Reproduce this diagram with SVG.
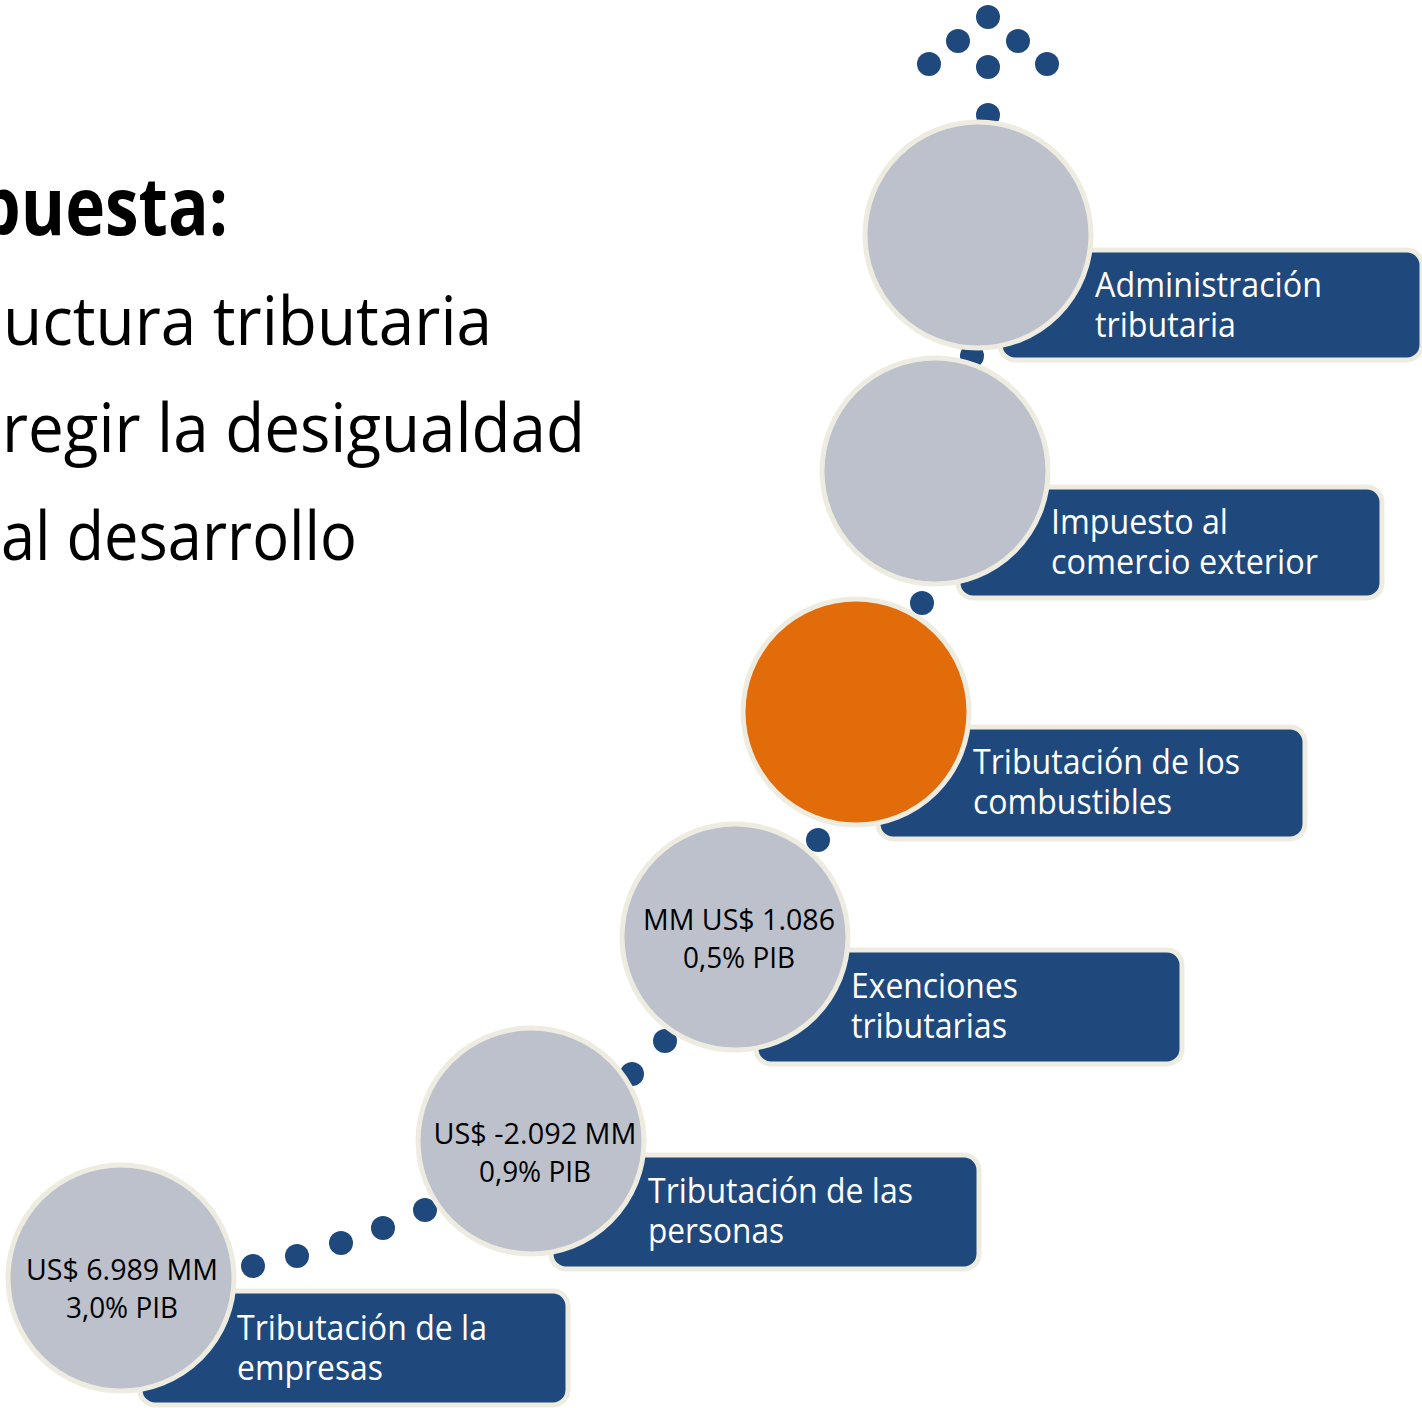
<svg xmlns="http://www.w3.org/2000/svg" width="1422" height="1408" viewBox="0 0 1422 1408">
<style>
.dot{fill:#1F497D}
.box{fill:#1F497D;stroke:#EEECE1;stroke-width:5}
.circ{fill:#BDC1CC;stroke:#EEECE1;stroke-width:5}
.orange{fill:#E36C0A;stroke:#EEECE1;stroke-width:5}
.lbl{font-family:"Open Sans","Noto Sans",sans-serif;font-size:34px;fill:#FFFFFF}
.val{font-family:"Open Sans","Noto Sans",sans-serif;font-size:29px;fill:#000000;text-anchor:middle}
.body{font-family:"Open Sans","Noto Sans",sans-serif;font-size:68px;fill:#000000}
.head{font-family:"Open Sans","Noto Sans",sans-serif;font-size:80px;font-weight:bold;fill:#000000}
</style>
<rect width="1422" height="1408" fill="#FFFFFF"/>
<g id="title">
<text class="head" x="-22" y="235" textLength="250" lengthAdjust="spacingAndGlyphs">puesta:</text>
<text class="body" x="3" y="345" textLength="489" lengthAdjust="spacingAndGlyphs">uctura tributaria</text>
<text class="body" x="2" y="452" textLength="583" lengthAdjust="spacingAndGlyphs">regir la desigualdad</text>
<text class="body" x="1" y="560" textLength="356" lengthAdjust="spacingAndGlyphs">al desarrollo</text>
</g>
<g id="connectors">
<circle class="dot" cx="988" cy="17" r="12"/>
<circle class="dot" cx="958" cy="41" r="12"/>
<circle class="dot" cx="1018" cy="41" r="12"/>
<circle class="dot" cx="929" cy="64" r="12"/>
<circle class="dot" cx="988" cy="67" r="12"/>
<circle class="dot" cx="1047" cy="64" r="12"/>
<circle class="dot" cx="988" cy="115" r="12"/>
<circle class="dot" cx="972" cy="356" r="12"/>
<circle class="dot" cx="922" cy="603" r="12"/>
<circle class="dot" cx="818" cy="840" r="12"/>
<circle class="dot" cx="665" cy="1041" r="12"/>
<circle class="dot" cx="632" cy="1074" r="12"/>
<circle class="dot" cx="425" cy="1210" r="12"/>
<circle class="dot" cx="383" cy="1228" r="12"/>
<circle class="dot" cx="341" cy="1243" r="12"/>
<circle class="dot" cx="297" cy="1256" r="12"/>
<circle class="dot" cx="253" cy="1266" r="12"/>
</g>
<g id="node-administracion">
<rect class="box" x="1000" y="250" width="422" height="110" rx="15"/>
<circle class="circ" cx="978" cy="235" r="113"/>
<text class="lbl"><tspan x="1095" y="297" textLength="227" lengthAdjust="spacingAndGlyphs">Administración</tspan><tspan x="1095" y="337" textLength="141" lengthAdjust="spacingAndGlyphs">tributaria</tspan></text>
</g>
<g id="node-comercio">
<rect class="box" x="958" y="487" width="424" height="111" rx="15"/>
<circle class="circ" cx="935" cy="471" r="113"/>
<text class="lbl"><tspan x="1051" y="534" textLength="177" lengthAdjust="spacingAndGlyphs">Impuesto al</tspan><tspan x="1051" y="574" textLength="267" lengthAdjust="spacingAndGlyphs">comercio exterior</tspan></text>
</g>
<g id="node-combustibles">
<rect class="box" x="878" y="727" width="427" height="112" rx="15"/>
<circle class="orange" cx="856" cy="712" r="113"/>
<text class="lbl"><tspan x="973" y="774" textLength="267" lengthAdjust="spacingAndGlyphs">Tributación de los</tspan><tspan x="973" y="814" textLength="199" lengthAdjust="spacingAndGlyphs">combustibles</tspan></text>
</g>
<g id="node-exenciones">
<rect class="box" x="756" y="950" width="426" height="114" rx="15"/>
<circle class="circ" cx="735" cy="937" r="113"/>
<text class="val"><tspan x="739" y="930" textLength="192" lengthAdjust="spacingAndGlyphs">MM US$ 1.086</tspan><tspan x="739" y="968" textLength="112" lengthAdjust="spacingAndGlyphs">0,5% PIB</tspan></text>
<text class="lbl"><tspan x="851" y="998" textLength="167" lengthAdjust="spacingAndGlyphs">Exenciones</tspan><tspan x="851" y="1038" textLength="156" lengthAdjust="spacingAndGlyphs">tributarias</tspan></text>
</g>
<g id="node-personas">
<rect class="box" x="551" y="1155" width="428" height="114" rx="15"/>
<circle class="circ" cx="531" cy="1141" r="113"/>
<text class="val"><tspan x="535" y="1144" textLength="203" lengthAdjust="spacingAndGlyphs">US$ -2.092 MM</tspan><tspan x="535" y="1182" textLength="112" lengthAdjust="spacingAndGlyphs">0,9% PIB</tspan></text>
<text class="lbl"><tspan x="648" y="1203" textLength="265" lengthAdjust="spacingAndGlyphs">Tributación de las</tspan><tspan x="648" y="1243" textLength="136" lengthAdjust="spacingAndGlyphs">personas</tspan></text>
</g>
<g id="node-empresas">
<rect class="box" x="140" y="1291" width="428" height="114" rx="15"/>
<circle class="circ" cx="121" cy="1278" r="113"/>
<text class="val"><tspan x="122" y="1280" textLength="192" lengthAdjust="spacingAndGlyphs">US$ 6.989 MM</tspan><tspan x="122" y="1318" textLength="112" lengthAdjust="spacingAndGlyphs">3,0% PIB</tspan></text>
<text class="lbl"><tspan x="237" y="1340" textLength="250" lengthAdjust="spacingAndGlyphs">Tributación de la</tspan><tspan x="237" y="1380" textLength="146" lengthAdjust="spacingAndGlyphs">empresas</tspan></text>
</g>
</svg>
